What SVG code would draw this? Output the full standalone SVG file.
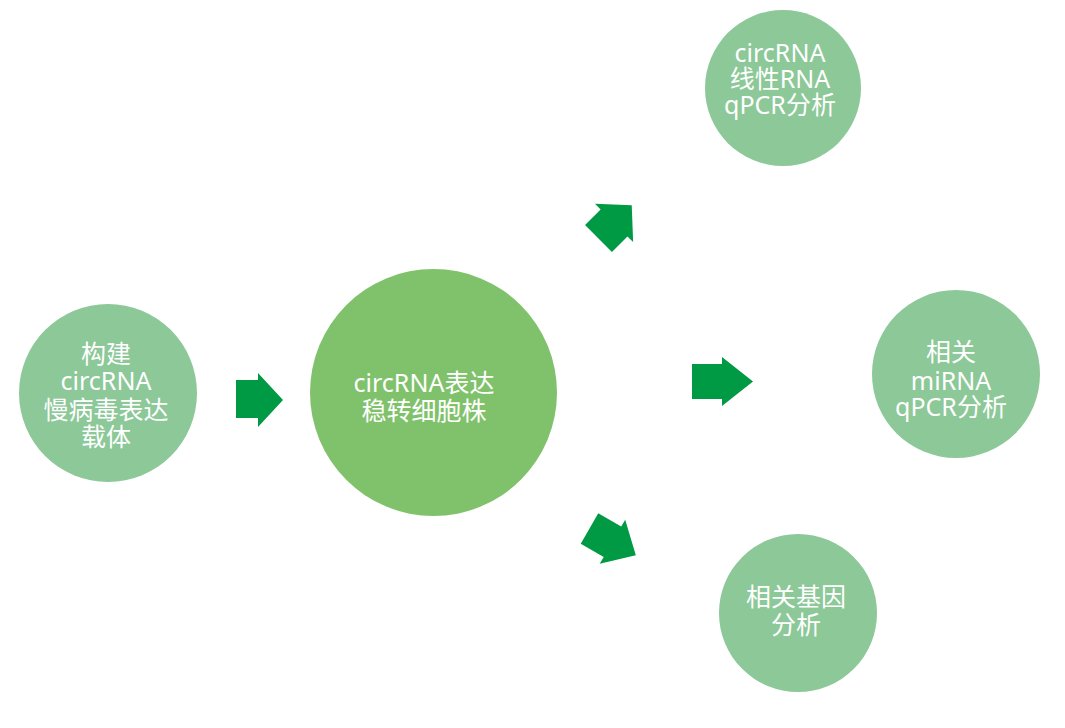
<svg xmlns="http://www.w3.org/2000/svg" width="1065" height="728" viewBox="0 0 1065 728">
<style>
.node{fill:#8CC898}
.main{fill:#80C26B}
.arr{fill:#009A44}
text{font-family:"Noto Sans","Noto Sans CJK SC",sans-serif;font-size:25px;fill:#FFFFFF;text-anchor:middle}
</style>
<rect width="1065" height="728" fill="#FFFFFF"/>
<g id="connectors">
<polygon class="arr" points="236,380 258,380 258,373 283,400 258,427 258,418 236,418"/>
<polygon class="arr" points="692,364 722,364 722,357 753,381.5 722,406 722,399 692,399"/>
<polygon class="arr" points="0,-19 22,-19 22,-27 47,0 22,27 22,19 0,19" transform="translate(598.5,238.5) rotate(-45)"/>
<polygon class="arr" points="0,-17.5 26.5,-17.5 26.5,-25.5 53.5,0 26.5,25.5 26.5,17.5 0,17.5" transform="translate(589.5,528.5) rotate(30)"/>
</g>
<g id="node-vector">
<circle class="node" cx="108" cy="393" r="89"/>
<text x="106" y="363">构建</text>
<text x="106" y="390">circRNA</text>
<text x="106" y="419">慢病毒表达</text>
<text x="106" y="446">载体</text>
</g>
<g id="node-cell">
<circle class="main" cx="433.5" cy="392.5" r="123.5"/>
<text x="424" y="392">circRNA表达</text>
<text x="424" y="420">稳转细胞株</text>
</g>
<g id="node-linear">
<circle class="node" cx="783" cy="88" r="78"/>
<text x="780" y="62">circRNA</text>
<text x="780" y="88">线性RNA</text>
<text x="780" y="114">qPCR分析</text>
</g>
<g id="node-mirna">
<circle class="node" cx="956" cy="374" r="84"/>
<text x="951" y="361">相关</text>
<text x="951" y="390">miRNA</text>
<text x="951" y="416">qPCR分析</text>
</g>
<g id="node-gene">
<circle class="node" cx="798" cy="613" r="79"/>
<text x="796" y="606">相关基因</text>
<text x="796" y="634">分析</text>
</g>
</svg>
